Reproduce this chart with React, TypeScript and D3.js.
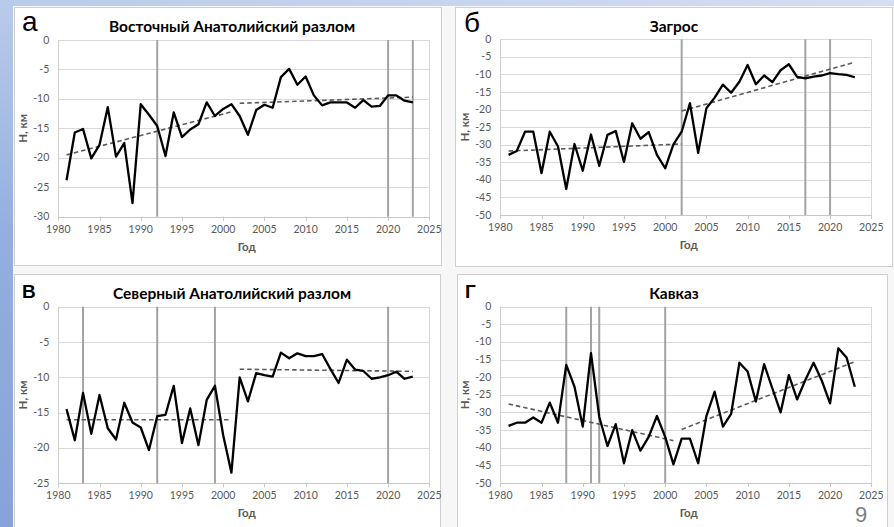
import React from 'react';
import * as d3 from 'd3';

// Years of observation (category axis)
const years = [
  1981, 1982, 1983, 1984, 1985, 1986, 1987, 1988, 1989, 1990,
  1991, 1992, 1993, 1994, 1995, 1996, 1997, 1998, 1999, 2000,
  2001, 2002, 2003, 2004, 2005, 2006, 2007, 2008, 2009, 2010,
  2011, 2012, 2013, 2014, 2015, 2016, 2017, 2018, 2019, 2020,
  2021, 2022, 2023,
];

// Mean hypocentre depth H, km, per year
const eastAnatolian = [
  -23.8, -15.7, -15.1, -20.1, -17.8, -11.4, -19.8, -17.5, -27.7, -10.9,
  -12.7, -14.6, -19.7, -12.3, -16.5, -15.2, -14.3, -10.6, -12.9, -11.7,
  -10.9, -12.9, -16.1, -11.9, -11.0, -11.5, -6.3, -4.9, -7.6, -6.2,
  -9.4, -11.1, -10.6, -10.6, -10.6, -11.5, -10.2, -11.3, -11.2, -9.4,
  -9.4, -10.3, -10.6,
];
const zagros = [
  -32.9, -31.8, -26.3, -26.3, -38.1, -26.3, -30.5, -42.6, -29.8, -37.4,
  -27.1, -36.0, -27.2, -26.1, -34.9, -23.9, -28.3, -26.4, -32.9, -36.7,
  -29.9, -26.3, -18.2, -32.3, -19.6, -16.6, -12.9, -15.2, -12.1, -7.3,
  -12.8, -10.3, -12.2, -8.8, -7.1, -10.7, -11.1, -10.6, -10.3, -9.6,
  -9.9, -10.1, -10.8,
];
const northAnatolian = [
  -14.5, -18.9, -12.2, -18.0, -12.5, -17.2, -18.8, -13.6, -16.4, -17.1,
  -20.3, -15.5, -15.3, -11.2, -19.3, -14.4, -19.6, -13.2, -11.2, -18.2,
  -23.5, -10.0, -13.4, -9.4, -9.7, -9.9, -6.5, -7.3, -6.6, -7.0,
  -7.0, -6.7, -8.8, -10.8, -7.5, -8.9, -9.1, -10.2, -10.0, -9.7,
  -9.2, -10.2, -9.9,
];
const caucasus = [
  -33.8, -32.9, -32.9, -31.4, -32.9, -27.2, -32.9, -16.5, -22.7, -34.0,
  -13.2, -31.2, -39.5, -33.3, -44.4, -35.0, -40.8, -36.9, -31.0, -36.9,
  -44.7, -37.4, -37.4, -44.4, -31.0, -24.1, -34.0, -30.4, -15.9, -18.4,
  -26.9, -16.3, -23.2, -30.0, -19.4, -26.3, -20.8, -15.9, -21.0, -27.4,
  -11.8, -14.4, -22.7,
];

// Linear trends: [yearFrom, valueFrom, yearTo, valueTo]
const eastTrends = [[1981, -19.5, 2001, -12.2], [2002, -10.75, 2023, -9.7]];
const zagrosTrends = [[1981, -31.8, 2002, -29.8], [2002, -20.4, 2023, -6.5]];
const northTrends = [[1981, -16.0, 2001, -16.0], [2002, -8.85, 2023, -9.15]];
const caucasusTrends = [[1981, -27.6, 2001, -38.0], [2002, -34.8, 2023, -15.6]];

// Years of strong earthquakes (vertical markers)
const eastEvents = [1992, 2020, 2023];
const zagrosEvents = [2002, 2017, 2020];
const northEvents = [1983, 1992, 1999, 2020];
const caucasusEvents = [1988, 1991, 1992, 2000];

const xTicks = [1980, 1985, 1990, 1995, 2000, 2005, 2010, 2015, 2020, 2025];

const titles = [
  'Восточный Анатолийский разлом',
  'Загрос',
  'Северный Анатолийский разлом',
  'Кавказ',
];
const letters = ['а', 'б', 'В', 'Г'];
const yMins = [-30, -50, -25, -50];

const W = 894;
const H = 527;
const FONT = 'Lato, "Open Sans", "Liberation Sans", sans-serif';
const AXIS_GRAY = '#595959';

type Box = { x: number; y: number; w: number; h: number };
type Plot = { left: number; right: number; top: number; bottom: number };

interface PanelProps {
  box: Box;
  plot: Plot;
  values: number[];
  trends: number[][];
  events: number[];
  yMin: number;
  title: string;
  titleX: number;
  titleY: number;
  letter: string;
  letterBold: boolean;
  letterSize: number;
  letterX: number;
  letterY: number;
}

function Panel(p: PanelProps) {
  const { plot } = p;
  const x = d3.scaleLinear().domain([1980, 2025]).range([plot.left, plot.right]);
  const y = d3.scaleLinear().domain([p.yMin, 0]).range([plot.bottom, plot.top]);
  const yTicks = d3.range(0, p.yMin - 0.1, -5);
  const path = d3
    .line<number>()
    .x((_, i) => x(years[i]))
    .y((d) => y(d))(p.values) as string;
  const midY = (plot.top + plot.bottom) / 2;

  return (
    <g>
      <rect x={p.box.x + 0.5} y={p.box.y + 0.5} width={p.box.w} height={p.box.h} fill="#ffffff" stroke="#cfcfcf" strokeWidth={1} />
      {/* horizontal gridlines */}
      {yTicks.map((t) => (
        <line key={'g' + t} x1={plot.left} x2={plot.right} y1={Math.round(y(t)) + 0.5} y2={Math.round(y(t)) + 0.5} stroke="#d9d9d9" strokeWidth={1} />
      ))}
      {/* plot frame */}
      <line x1={Math.round(plot.left) + 0.5} x2={Math.round(plot.left) + 0.5} y1={plot.top} y2={plot.bottom + 4} stroke="#d0d0d0" strokeWidth={1} />
      <line x1={Math.round(plot.right) + 0.5} x2={Math.round(plot.right) + 0.5} y1={plot.top} y2={plot.bottom + 4} stroke="#d9d9d9" strokeWidth={1} />
      <line x1={plot.left} x2={plot.right} y1={Math.round(plot.bottom) + 0.5} y2={Math.round(plot.bottom) + 0.5} stroke="#c8c8c8" strokeWidth={1} />
      {xTicks.map((t) => (
        <line key={'t' + t} x1={Math.round(x(t)) + 0.5} x2={Math.round(x(t)) + 0.5} y1={plot.bottom} y2={plot.bottom + 4} stroke="#c8c8c8" strokeWidth={1} />
      ))}
      {/* y tick labels */}
      {yTicks.map((t) => (
        <text key={'yl' + t} x={plot.left - 9} y={y(t) + 3.5} textAnchor="end" fontFamily={FONT} fontSize={10.5} fill={AXIS_GRAY}>
          {t === 0 ? '0' : String(t)}
        </text>
      ))}
      {/* x tick labels */}
      {xTicks.map((t) => (
        <text key={'xl' + t} x={x(t)} y={plot.bottom + 16} textAnchor="middle" fontFamily={FONT} fontSize={10.5} fill={AXIS_GRAY}>
          {t}
        </text>
      ))}
      {/* earthquake markers */}
      {p.events.map((e) => (
        <line key={'e' + e} x1={x(e)} x2={x(e)} y1={plot.top} y2={plot.bottom} stroke="#a3a3a3" strokeWidth={2} />
      ))}
      {/* trends */}
      {p.trends.map((s, i) => (
        <line key={'tr' + i} x1={x(s[0])} y1={y(s[1])} x2={x(s[2])} y2={y(s[3])} stroke="#5a5a5a" strokeWidth={1.6} strokeDasharray="4.5 3" />
      ))}
      {/* depth series */}
      <path d={path} fill="none" stroke="#000000" strokeWidth={2.3} strokeLinejoin="round" />
      {/* titles */}
      <text x={p.titleX} y={p.titleY} textAnchor="middle" fontFamily={FONT} fontWeight="bold" fontSize={15.5} fill="#000000">
        {p.title}
      </text>
      <text x={p.letterX} y={p.letterY} fontFamily='"Liberation Sans", Arial, sans-serif' fontWeight={p.letterBold ? 'bold' : 'normal'} fontSize={p.letterSize} fill="#000000">
        {p.letter}
      </text>
      <text x={(plot.left + plot.right) / 2 + 3} y={plot.bottom + 34} textAnchor="middle" fontFamily={FONT} fontWeight="bold" fontSize={11.5} fill={AXIS_GRAY}>
        Год
      </text>
      <text transform={`translate(${plot.left - 31},${midY}) rotate(-90)`} textAnchor="middle" fontFamily={FONT} fontWeight="bold" fontSize={11.5} fill={AXIS_GRAY}>
        Н, км
      </text>
    </g>
  );
}

export default function App() {
  const seriesList = [eastAnatolian, zagros, northAnatolian, caucasus];
  const trendList = [eastTrends, zagrosTrends, northTrends, caucasusTrends];
  const eventList = [eastEvents, zagrosEvents, northEvents, caucasusEvents];

  const layout = [
    { box: { x: 14, y: 7, w: 427, h: 258 }, plot: { left: 58.3, right: 429.3, top: 40, bottom: 216.7 }, titleX: 232, titleY: 32, letterX: 22, letterY: 30.5, letterBold: false, letterSize: 28 },
    { box: { x: 455, y: 7, w: 437, h: 259 }, plot: { left: 500.3, right: 871.3, top: 39.3, bottom: 215 }, titleX: 674, titleY: 32, letterX: 464, letterY: 31.5, letterBold: false, letterSize: 28 },
    { box: { x: 14, y: 274, w: 426, h: 260 }, plot: { left: 58.3, right: 429.3, top: 306.7, bottom: 483.3 }, titleX: 232, titleY: 299, letterX: 22, letterY: 297.5, letterBold: true, letterSize: 19 },
    { box: { x: 457, y: 274, w: 430, h: 260 }, plot: { left: 500.3, right: 871.3, top: 306.7, bottom: 483 }, titleX: 674, titleY: 298.5, letterX: 465, letterY: 297.5, letterBold: true, letterSize: 19 },
  ];

  return (
    <svg width={W} height={H} style={{ position: 'absolute', left: 0, top: 0, display: 'block' }} xmlns="http://www.w3.org/2000/svg">
      <defs>
        <linearGradient id="sideBand" x1="0" y1="0" x2="0" y2="1">
          <stop offset="0" stopColor="#b9cbea" />
          <stop offset="0.45" stopColor="#93aedf" />
          <stop offset="1" stopColor="#86a4da" />
        </linearGradient>
        <linearGradient id="topBand" x1="0" y1="0" x2="1" y2="0">
          <stop offset="0" stopColor="#b9cbea" />
          <stop offset="1" stopColor="#d3def1" />
        </linearGradient>
      </defs>
      <rect x={0} y={0} width={W} height={H} fill="#f7f7f7" />
      <rect x={0} y={0} width={W} height={6} fill="url(#topBand)" />
      <rect x={0} y={0} width={13} height={H} fill="url(#sideBand)" />
      {layout.map((l, i) => (
        <Panel
          key={i}
          box={l.box}
          plot={l.plot}
          values={seriesList[i]}
          trends={trendList[i]}
          events={eventList[i]}
          yMin={yMins[i]}
          title={titles[i]}
          titleX={l.titleX}
          titleY={l.titleY}
          letter={letters[i]}
          letterBold={l.letterBold}
          letterSize={l.letterSize}
          letterX={l.letterX}
          letterY={l.letterY}
        />
      ))}
      <text x={861} y={522} textAnchor="middle" fontFamily='"Liberation Sans", Arial, sans-serif' fontSize={22} fill="#7f7f7f">
        9
      </text>
    </svg>
  );
}
